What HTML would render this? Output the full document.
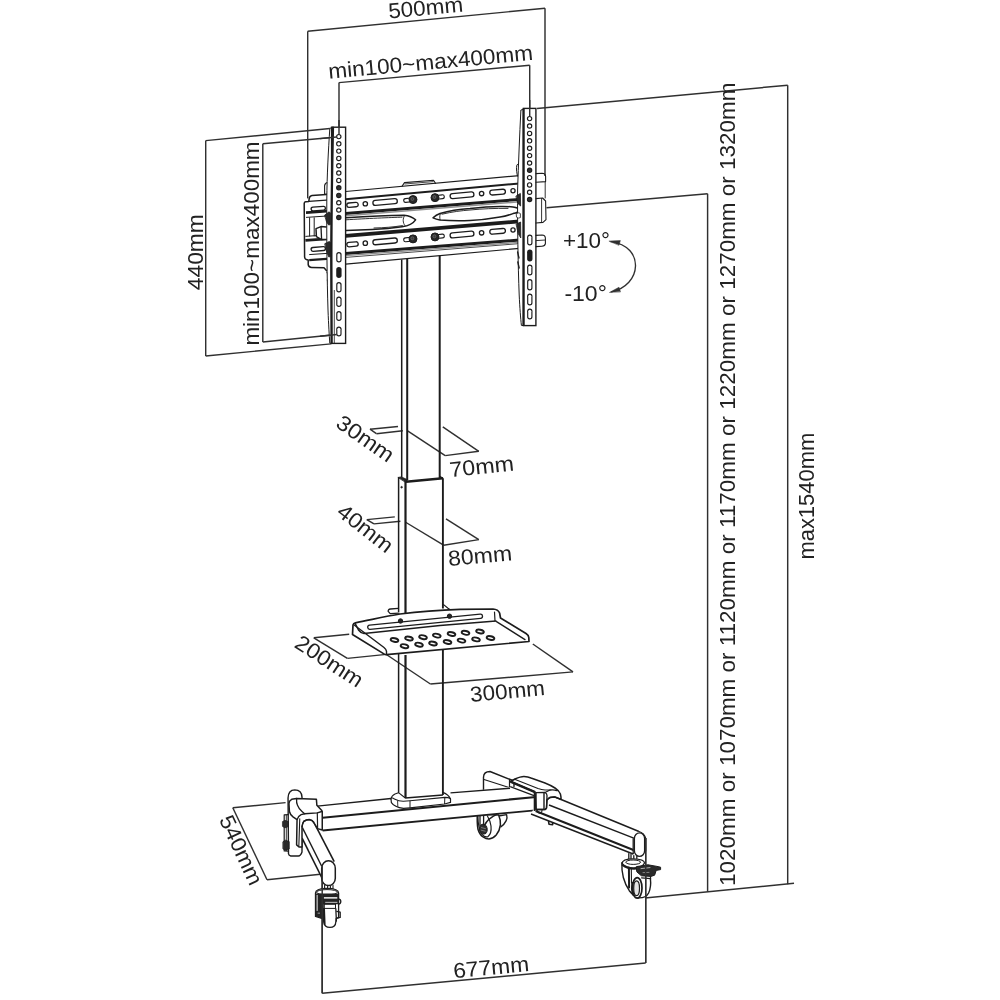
<!DOCTYPE html>
<html><head><meta charset="utf-8"><title>TV cart dimensions</title>
<style>
html,body{margin:0;padding:0;background:#fff;}
svg{display:block;filter:grayscale(1);font-family:"Liberation Sans",sans-serif;}
</style></head><body>
<svg width="1000" height="1000" viewBox="0 0 1000 1000">
<rect width="1000" height="1000" fill="#fff"/>
<line x1="307.70" y1="31.30" x2="545.00" y2="8.20" stroke="#303030" stroke-width="1.45" />
<line x1="307.70" y1="31.30" x2="307.70" y2="198.40" stroke="#303030" stroke-width="1.45" />
<line x1="545.00" y1="8.20" x2="545.00" y2="176.00" stroke="#303030" stroke-width="1.45" />
<line x1="339.00" y1="82.60" x2="529.70" y2="65.20" stroke="#303030" stroke-width="1.45" />
<line x1="339.00" y1="82.60" x2="339.00" y2="134.00" stroke="#303030" stroke-width="1.45" />
<line x1="529.70" y1="65.20" x2="529.70" y2="115.50" stroke="#303030" stroke-width="1.45" />
<line x1="205.70" y1="140.60" x2="205.70" y2="356.00" stroke="#303030" stroke-width="1.45" />
<line x1="205.70" y1="140.60" x2="330.00" y2="128.50" stroke="#303030" stroke-width="1.45" />
<line x1="205.70" y1="356.00" x2="331.00" y2="343.90" stroke="#303030" stroke-width="1.45" />
<line x1="262.80" y1="143.80" x2="262.80" y2="342.00" stroke="#303030" stroke-width="1.45" />
<line x1="262.80" y1="143.80" x2="337.00" y2="137.00" stroke="#303030" stroke-width="1.45" />
<line x1="262.80" y1="342.00" x2="337.00" y2="334.50" stroke="#303030" stroke-width="1.45" />
<line x1="537.00" y1="108.50" x2="787.70" y2="85.20" stroke="#303030" stroke-width="1.45" />
<line x1="787.70" y1="85.20" x2="787.70" y2="884.20" stroke="#303030" stroke-width="1.45" />
<line x1="546.50" y1="207.80" x2="707.60" y2="193.80" stroke="#303030" stroke-width="1.45" />
<line x1="707.60" y1="193.80" x2="707.60" y2="891.80" stroke="#303030" stroke-width="1.45" />
<line x1="645.00" y1="898.00" x2="794.00" y2="883.30" stroke="#303030" stroke-width="1.45" />
<line x1="322.20" y1="868.00" x2="322.20" y2="993.30" stroke="#303030" stroke-width="1.45" />
<line x1="645.70" y1="838.00" x2="645.70" y2="963.00" stroke="#303030" stroke-width="1.45" />
<line x1="322.20" y1="993.30" x2="645.70" y2="963.00" stroke="#303030" stroke-width="1.45" />
<line x1="232.80" y1="807.80" x2="285.60" y2="802.60" stroke="#303030" stroke-width="1.45" />
<line x1="232.80" y1="807.80" x2="267.00" y2="879.80" stroke="#303030" stroke-width="1.45" />
<line x1="267.00" y1="879.80" x2="320.40" y2="874.20" stroke="#303030" stroke-width="1.45" />
<line x1="370.00" y1="429.20" x2="398.00" y2="426.50" stroke="#303030" stroke-width="1.45" />
<line x1="370.00" y1="429.20" x2="376.40" y2="433.70" stroke="#303030" stroke-width="1.45" />
<line x1="376.40" y1="433.70" x2="402.80" y2="430.80" stroke="#303030" stroke-width="1.45" />
<line x1="407.60" y1="430.80" x2="445.20" y2="455.60" stroke="#303030" stroke-width="1.45" />
<line x1="445.20" y1="455.60" x2="478.80" y2="451.30" stroke="#303030" stroke-width="1.45" />
<line x1="442.80" y1="426.80" x2="478.80" y2="451.30" stroke="#303030" stroke-width="1.45" />
<line x1="366.80" y1="519.60" x2="394.80" y2="516.90" stroke="#303030" stroke-width="1.45" />
<line x1="366.80" y1="519.60" x2="374.00" y2="523.90" stroke="#303030" stroke-width="1.45" />
<line x1="374.00" y1="523.90" x2="400.40" y2="521.20" stroke="#303030" stroke-width="1.45" />
<line x1="405.20" y1="522.00" x2="443.60" y2="545.20" stroke="#303030" stroke-width="1.45" />
<line x1="443.60" y1="545.20" x2="478.80" y2="539.60" stroke="#303030" stroke-width="1.45" />
<line x1="446.00" y1="518.80" x2="478.80" y2="539.60" stroke="#303030" stroke-width="1.45" />
<line x1="313.80" y1="637.80" x2="349.20" y2="634.20" stroke="#303030" stroke-width="1.45" />
<line x1="313.80" y1="637.80" x2="347.40" y2="658.40" stroke="#303030" stroke-width="1.45" />
<line x1="347.40" y1="658.40" x2="384.00" y2="654.60" stroke="#303030" stroke-width="1.45" />
<line x1="385.60" y1="654.00" x2="430.40" y2="684.00" stroke="#303030" stroke-width="1.45" />
<line x1="430.40" y1="684.00" x2="573.00" y2="671.90" stroke="#303030" stroke-width="1.45" />
<line x1="532.80" y1="644.00" x2="573.00" y2="671.90" stroke="#303030" stroke-width="1.45" />
<text x="388.90" y="18.40" font-size="21.5" transform="rotate(-5.20 388.90 18.40)" text-anchor="start" fill="#222" font-weight="normal" textLength="75.0" lengthAdjust="spacingAndGlyphs">500mm</text>
<text x="329.00" y="78.80" font-size="21.5" transform="rotate(-5.30 329.00 78.80)" text-anchor="start" fill="#222" font-weight="normal" textLength="205.3" lengthAdjust="spacingAndGlyphs">min100~max400mm</text>
<text x="203.30" y="290.20" font-size="21.5" transform="rotate(-90.00 203.30 290.20)" text-anchor="start" fill="#222" font-weight="normal" textLength="76.0" lengthAdjust="spacingAndGlyphs">440mm</text>
<text x="258.80" y="345.60" font-size="21.5" transform="rotate(-90.00 258.80 345.60)" text-anchor="start" fill="#222" font-weight="normal" textLength="204.2" lengthAdjust="spacingAndGlyphs">min100~max400mm</text>
<text x="563.00" y="247.60" font-size="21.5" transform="rotate(0.00 563.00 247.60)" text-anchor="start" fill="#222" font-weight="normal" textLength="47.0" lengthAdjust="spacingAndGlyphs">+10°</text>
<text x="564.40" y="300.60" font-size="21.5" transform="rotate(0.00 564.40 300.60)" text-anchor="start" fill="#222" font-weight="normal" textLength="42.5" lengthAdjust="spacingAndGlyphs">-10°</text>
<text x="735.20" y="886.00" font-size="21.5" transform="rotate(-90.00 735.20 886.00)" text-anchor="start" fill="#222" font-weight="normal" textLength="803.5" lengthAdjust="spacingAndGlyphs">1020mm or 1070mm or 1120mm or 1170mm or 1220mm or 1270mm or 1320mm</text>
<text x="814.00" y="559.60" font-size="21.5" transform="rotate(-90.00 814.00 559.60)" text-anchor="start" fill="#222" font-weight="normal" textLength="126.8" lengthAdjust="spacingAndGlyphs">max1540mm</text>
<text x="454.00" y="978.20" font-size="21.5" transform="rotate(-5.35 454.00 978.20)" text-anchor="start" fill="#222" font-weight="normal" textLength="76.0" lengthAdjust="spacingAndGlyphs">677mm</text>
<text x="218.70" y="819.40" font-size="21.5" transform="rotate(65.00 218.70 819.40)" text-anchor="start" fill="#222" font-weight="normal" textLength="74.5" lengthAdjust="spacingAndGlyphs">540mm</text>
<text x="334.60" y="426.00" font-size="21.5" transform="rotate(35.00 334.60 426.00)" text-anchor="start" fill="#222" font-weight="normal" textLength="65.0" lengthAdjust="spacingAndGlyphs">30mm</text>
<text x="450.20" y="477.20" font-size="21.5" transform="rotate(-6.00 450.20 477.20)" text-anchor="start" fill="#222" font-weight="normal" textLength="64.7" lengthAdjust="spacingAndGlyphs">70mm</text>
<text x="335.50" y="514.20" font-size="21.5" transform="rotate(38.00 335.50 514.20)" text-anchor="start" fill="#222" font-weight="normal" textLength="64.5" lengthAdjust="spacingAndGlyphs">40mm</text>
<text x="448.80" y="566.00" font-size="21.5" transform="rotate(-5.20 448.80 566.00)" text-anchor="start" fill="#222" font-weight="normal" textLength="64.0" lengthAdjust="spacingAndGlyphs">80mm</text>
<text x="293.20" y="646.60" font-size="21.5" transform="rotate(33.00 293.20 646.60)" text-anchor="start" fill="#222" font-weight="normal" textLength="76.5" lengthAdjust="spacingAndGlyphs">200mm</text>
<text x="470.80" y="702.00" font-size="21.5" transform="rotate(-5.40 470.80 702.00)" text-anchor="start" fill="#222" font-weight="normal" textLength="75.0" lengthAdjust="spacingAndGlyphs">300mm</text>
<path d="M611,241.6 C628,244 635.8,255 635.5,266 C635.2,278 626,288.6 611.5,291.8" fill="none" stroke="#303030" stroke-width="1.35" stroke-linejoin="round" stroke-linecap="round" />
<path d="M609.3,241.1 L620.4,240.6 L619.0,245.0 Z" fill="#303030" stroke="#303030" stroke-width="0.5" stroke-linejoin="round" stroke-linecap="round" />
<path d="M609.8,292.3 L619.0,287.2 L620.4,291.6 Z" fill="#303030" stroke="#303030" stroke-width="0.5" stroke-linejoin="round" stroke-linecap="round" />
<line x1="345.60" y1="191.50" x2="519.50" y2="175.60" stroke="#1c1c1c" stroke-width="1.2" />
<line x1="345.60" y1="199.30" x2="519.50" y2="183.40" stroke="#1c1c1c" stroke-width="2.0" />
<line x1="345.60" y1="213.40" x2="519.50" y2="199.40" stroke="#1c1c1c" stroke-width="3.0" />
<line x1="345.60" y1="235.80" x2="519.50" y2="221.40" stroke="#1c1c1c" stroke-width="3.7" />
<line x1="345.60" y1="253.40" x2="519.50" y2="240.10" stroke="#1c1c1c" stroke-width="3.0" />
<line x1="345.60" y1="264.20" x2="519.50" y2="248.40" stroke="#1c1c1c" stroke-width="1.2" />
<line x1="345.60" y1="257.40" x2="519.50" y2="243.60" stroke="#1c1c1c" stroke-width="0.8" />
<path d="M402.00,186.30 L404.50,182.60 L433.50,180.20 L435.50,183.30" fill="none" stroke="#1c1c1c" stroke-width="1.1" stroke-linejoin="round" stroke-linecap="round" />
<line x1="404.50" y1="184.00" x2="433.50" y2="181.60" stroke="#1c1c1c" stroke-width="0.8" />
<line x1="349.00" y1="205.20" x2="356.00" y2="204.58" stroke="#1c1c1c" stroke-width="5.70" stroke-linecap="round"/>
<line x1="349.00" y1="205.20" x2="356.00" y2="204.58" stroke="#fff" stroke-width="3.10" stroke-linecap="round"/>
<circle cx="365.30" cy="203.77" r="2.20" fill="none" stroke="#1c1c1c" stroke-width="1.3"/>
<line x1="375.40" y1="202.88" x2="394.80" y2="201.17" stroke="#1c1c1c" stroke-width="6.30" stroke-linecap="round"/>
<line x1="375.40" y1="202.88" x2="394.80" y2="201.17" stroke="#fff" stroke-width="3.70" stroke-linecap="round"/>
<line x1="411.00" y1="199.87" x2="405.60" y2="200.47" stroke="#1c1c1c" stroke-width="4.90" stroke-linecap="round"/>
<line x1="411.00" y1="199.87" x2="405.60" y2="200.47" stroke="#fff" stroke-width="2.70" stroke-linecap="round"/>
<circle cx="413.00" cy="199.57" r="4.00" fill="#262626" stroke="#1c1c1c" stroke-width="1.0"/>
<circle cx="412.40" cy="198.97" r="1.50" fill="#3a3a3a" stroke="#777" stroke-width="0.6"/>
<line x1="437.00" y1="197.33" x2="442.40" y2="196.73" stroke="#1c1c1c" stroke-width="4.90" stroke-linecap="round"/>
<line x1="437.00" y1="197.33" x2="442.40" y2="196.73" stroke="#fff" stroke-width="2.70" stroke-linecap="round"/>
<circle cx="435.00" cy="197.63" r="4.00" fill="#262626" stroke="#1c1c1c" stroke-width="1.0"/>
<circle cx="434.40" cy="197.03" r="1.50" fill="#3a3a3a" stroke="#777" stroke-width="0.6"/>
<line x1="452.60" y1="196.09" x2="471.40" y2="194.43" stroke="#1c1c1c" stroke-width="6.30" stroke-linecap="round"/>
<line x1="452.60" y1="196.09" x2="471.40" y2="194.43" stroke="#fff" stroke-width="3.70" stroke-linecap="round"/>
<circle cx="481.60" cy="193.53" r="2.20" fill="none" stroke="#1c1c1c" stroke-width="1.3"/>
<line x1="492.20" y1="192.60" x2="503.00" y2="191.65" stroke="#1c1c1c" stroke-width="6.10" stroke-linecap="round"/>
<line x1="492.20" y1="192.60" x2="503.00" y2="191.65" stroke="#fff" stroke-width="3.50" stroke-linecap="round"/>
<circle cx="513.00" cy="190.77" r="2.10" fill="none" stroke="#1c1c1c" stroke-width="1.3"/>
<line x1="349.00" y1="244.60" x2="356.00" y2="243.97" stroke="#1c1c1c" stroke-width="5.70" stroke-linecap="round"/>
<line x1="349.00" y1="244.60" x2="356.00" y2="243.97" stroke="#fff" stroke-width="3.10" stroke-linecap="round"/>
<circle cx="365.30" cy="243.14" r="2.20" fill="none" stroke="#1c1c1c" stroke-width="1.3"/>
<line x1="375.40" y1="242.24" x2="394.80" y2="240.51" stroke="#1c1c1c" stroke-width="6.30" stroke-linecap="round"/>
<line x1="375.40" y1="242.24" x2="394.80" y2="240.51" stroke="#fff" stroke-width="3.70" stroke-linecap="round"/>
<line x1="411.00" y1="239.19" x2="405.60" y2="239.79" stroke="#1c1c1c" stroke-width="4.90" stroke-linecap="round"/>
<line x1="411.00" y1="239.19" x2="405.60" y2="239.79" stroke="#fff" stroke-width="2.70" stroke-linecap="round"/>
<circle cx="413.00" cy="238.89" r="4.00" fill="#262626" stroke="#1c1c1c" stroke-width="1.0"/>
<circle cx="412.40" cy="238.29" r="1.50" fill="#3a3a3a" stroke="#777" stroke-width="0.6"/>
<line x1="437.00" y1="236.63" x2="442.40" y2="236.03" stroke="#1c1c1c" stroke-width="4.90" stroke-linecap="round"/>
<line x1="437.00" y1="236.63" x2="442.40" y2="236.03" stroke="#fff" stroke-width="2.70" stroke-linecap="round"/>
<circle cx="435.00" cy="236.93" r="4.00" fill="#262626" stroke="#1c1c1c" stroke-width="1.0"/>
<circle cx="434.40" cy="236.33" r="1.50" fill="#3a3a3a" stroke="#777" stroke-width="0.6"/>
<line x1="452.60" y1="235.36" x2="471.40" y2="233.69" stroke="#1c1c1c" stroke-width="6.30" stroke-linecap="round"/>
<line x1="452.60" y1="235.36" x2="471.40" y2="233.69" stroke="#fff" stroke-width="3.70" stroke-linecap="round"/>
<circle cx="481.60" cy="232.78" r="2.20" fill="none" stroke="#1c1c1c" stroke-width="1.3"/>
<line x1="492.20" y1="231.83" x2="503.00" y2="230.87" stroke="#1c1c1c" stroke-width="6.10" stroke-linecap="round"/>
<line x1="492.20" y1="231.83" x2="503.00" y2="230.87" stroke="#fff" stroke-width="3.50" stroke-linecap="round"/>
<circle cx="513.00" cy="229.98" r="2.10" fill="none" stroke="#1c1c1c" stroke-width="1.3"/>
<line x1="345.60" y1="215.80" x2="519.50" y2="201.80" stroke="#909090" stroke-width="1.5" />
<line x1="345.60" y1="255.60" x2="519.50" y2="242.30" stroke="#909090" stroke-width="1.3" />
<path d="M346,217.8 C365,216.6 392,215.4 404,215.2 C409,215.6 413,217.4 415.6,219.8 C413.6,222.8 409,225.6 402,226.8 C392,228.4 380,229.2 372,229.4 C362,229.9 352,230.4 346,230.6" fill="none" stroke="#1c1c1c" stroke-width="1.5" stroke-linejoin="round" stroke-linecap="round" />
<path d="M346,219.8 C365,218.6 392,217.4 402,217.2 M404.6,215.6 C402.6,218.4 402.6,223 405,225.6 M402.4,225.6 C394,227 384,227.8 374,228" fill="none" stroke="#1c1c1c" stroke-width="0.9" stroke-linejoin="round" stroke-linecap="round" />
<path d="M433,217.8 C435,216 437.6,214.4 440,213.5 C450,210.6 460,209.2 470,208.5 C482,207.2 492,206.6 500,206.5 C506,206.4 510,206.6 513,207 C517,207.6 519,208.6 519.4,210 C519,212 517,213 513,213.6 C509,215 505,216.2 500,217 C490,218.8 480,220 470,220.5 C460,220.9 450,220.8 440,220 C437.6,219.6 435,218.8 433,217.8 Z" fill="none" stroke="#1c1c1c" stroke-width="1.5" stroke-linejoin="round" stroke-linecap="round" />
<path d="M440.2,214 C439.6,216 439.6,218 440.2,219.8 M442,214.2 C452,211.8 462,210.6 470,210 C482,208.8 495,208.2 508,208.4" fill="none" stroke="#1c1c1c" stroke-width="0.9" stroke-linejoin="round" stroke-linecap="round" />
<path d="M330,194.2 L312,195.6 Q309.5,196 309.2,198.6 L308.8,201.4 L305.6,201.8 Q304.2,202 304.2,203.6 L304.6,257 Q304.8,259.4 307,259.8 L308.2,260 L308.2,264.6 Q308.6,267.4 311.6,267.4 L324,267.8 L326.4,270.4" fill="none" stroke="#1c1c1c" stroke-width="1.5" stroke-linejoin="round" stroke-linecap="round" />
<line x1="308.80" y1="201.40" x2="330.00" y2="199.80" stroke="#1c1c1c" stroke-width="1.2" />
<line x1="306.00" y1="212.60" x2="330.00" y2="211.00" stroke="#1c1c1c" stroke-width="2.6" />
<line x1="306.00" y1="217.40" x2="330.00" y2="215.80" stroke="#1c1c1c" stroke-width="1.0" />
<line x1="305.40" y1="240.40" x2="330.00" y2="238.60" stroke="#1c1c1c" stroke-width="2.6" />
<line x1="305.40" y1="236.40" x2="330.00" y2="234.60" stroke="#1c1c1c" stroke-width="1.0" />
<line x1="309.20" y1="260.20" x2="330.00" y2="258.60" stroke="#1c1c1c" stroke-width="2.2" />
<line x1="309.20" y1="254.60" x2="330.00" y2="253.20" stroke="#1c1c1c" stroke-width="1.0" />
<line x1="313.00" y1="209.00" x2="323.50" y2="208.20" stroke="#1c1c1c" stroke-width="5.10" stroke-linecap="round"/>
<line x1="313.00" y1="209.00" x2="323.50" y2="208.20" stroke="#fff" stroke-width="2.50" stroke-linecap="round"/>
<line x1="313.00" y1="249.40" x2="323.50" y2="248.60" stroke="#1c1c1c" stroke-width="5.10" stroke-linecap="round"/>
<line x1="313.00" y1="249.40" x2="323.50" y2="248.60" stroke="#fff" stroke-width="2.50" stroke-linecap="round"/>
<line x1="309.60" y1="217.40" x2="309.60" y2="236.40" stroke="#1c1c1c" stroke-width="1.0" />
<line x1="314.20" y1="217.40" x2="314.20" y2="236.40" stroke="#1c1c1c" stroke-width="1.0" />
<path d="M316,228.6 L321,226.6 L329,227.2 L329,239.2 L321.6,239.6 L316.4,236.6 Z" fill="#fff" stroke="#1c1c1c" stroke-width="1.5" stroke-linejoin="round" stroke-linecap="round" />
<line x1="321.00" y1="226.60" x2="321.60" y2="239.60" stroke="#1c1c1c" stroke-width="1.3" />
<path d="M329,194 L324.6,194.4 L324.6,185.6 Q325,182.6 328,182.2 L329,182" fill="none" stroke="#1c1c1c" stroke-width="1.1" stroke-linejoin="round" stroke-linecap="round" />
<path d="M327,272 L328.6,276 M327.4,280 L328.8,284" fill="none" stroke="#1c1c1c" stroke-width="1.3" stroke-linejoin="round" stroke-linecap="round" />
<path d="M331.6,127.4 L329.8,128.6 C328.4,150 327.0,175 326.8,200 C326.6,235 327.0,280 328.0,310 C328.6,325 329.2,335 329.8,343.2 L331.6,343.4 Z" fill="#fff" stroke="#1c1c1c" stroke-width="1.0" stroke-linejoin="round" stroke-linecap="round" />
<rect x="331.6" y="127.2" width="14.0" height="216.2" fill="#fff" stroke="#1c1c1c" stroke-width="1.4"/>
<path d="M333.0,127.6 C332.2,170 331.2,220 331.2,260 L331.6,343.2" fill="none" stroke="#1c1c1c" stroke-width="2.2" stroke-linejoin="round" stroke-linecap="round" />
<line x1="334.30" y1="290.00" x2="334.30" y2="343.00" stroke="#1c1c1c" stroke-width="0.8" />
<circle cx="338.80" cy="136.60" r="2.15" fill="none" stroke="#1c1c1c" stroke-width="1.15"/>
<circle cx="338.80" cy="143.80" r="2.15" fill="none" stroke="#1c1c1c" stroke-width="1.15"/>
<circle cx="338.80" cy="151.10" r="2.15" fill="none" stroke="#1c1c1c" stroke-width="1.15"/>
<circle cx="338.80" cy="158.40" r="2.15" fill="none" stroke="#1c1c1c" stroke-width="1.15"/>
<circle cx="338.80" cy="165.70" r="2.15" fill="none" stroke="#1c1c1c" stroke-width="1.15"/>
<circle cx="338.80" cy="173.00" r="2.15" fill="none" stroke="#1c1c1c" stroke-width="1.15"/>
<circle cx="338.80" cy="180.40" r="2.15" fill="none" stroke="#1c1c1c" stroke-width="1.15"/>
<circle cx="338.80" cy="187.80" r="2.15" fill="#333" stroke="#1c1c1c" stroke-width="1.15"/>
<circle cx="338.80" cy="195.40" r="2.15" fill="#333" stroke="#1c1c1c" stroke-width="1.15"/>
<circle cx="338.80" cy="202.70" r="2.15" fill="none" stroke="#1c1c1c" stroke-width="1.15"/>
<circle cx="338.80" cy="210.00" r="2.15" fill="none" stroke="#1c1c1c" stroke-width="1.15"/>
<circle cx="338.80" cy="217.50" r="2.15" fill="#333" stroke="#1c1c1c" stroke-width="1.15"/>
<line x1="338.90" y1="254.70" x2="338.90" y2="259.80" stroke="#1c1c1c" stroke-width="5.35" stroke-linecap="round"/>
<line x1="338.90" y1="254.70" x2="338.90" y2="259.80" stroke="#fff" stroke-width="3.05" stroke-linecap="round"/>
<line x1="338.90" y1="269.70" x2="338.90" y2="275.30" stroke="#1c1c1c" stroke-width="5.35" stroke-linecap="round"/>
<line x1="338.90" y1="284.70" x2="338.90" y2="289.80" stroke="#1c1c1c" stroke-width="5.35" stroke-linecap="round"/>
<line x1="338.90" y1="284.70" x2="338.90" y2="289.80" stroke="#fff" stroke-width="3.05" stroke-linecap="round"/>
<line x1="338.90" y1="299.20" x2="338.90" y2="304.30" stroke="#1c1c1c" stroke-width="5.35" stroke-linecap="round"/>
<line x1="338.90" y1="299.20" x2="338.90" y2="304.30" stroke="#fff" stroke-width="3.05" stroke-linecap="round"/>
<line x1="338.90" y1="313.70" x2="338.90" y2="318.30" stroke="#1c1c1c" stroke-width="5.35" stroke-linecap="round"/>
<line x1="338.90" y1="313.70" x2="338.90" y2="318.30" stroke="#fff" stroke-width="3.05" stroke-linecap="round"/>
<line x1="338.90" y1="329.20" x2="338.90" y2="333.80" stroke="#1c1c1c" stroke-width="5.35" stroke-linecap="round"/>
<line x1="338.90" y1="329.20" x2="338.90" y2="333.80" stroke="#fff" stroke-width="3.05" stroke-linecap="round"/>
<path d="M523.4,109.4 L520.9,110 C519.6,135 518.4,165 517.6,190 C517.4,225 518.0,265 519.2,295 C519.8,308 520.6,318 521.4,325.4 L523.4,325.6 Z" fill="#fff" stroke="#1c1c1c" stroke-width="1.0" stroke-linejoin="round" stroke-linecap="round" />
<rect x="523.4" y="108.4" width="12.5" height="217.2" fill="#fff" stroke="#1c1c1c" stroke-width="1.4"/>
<line x1="523.60" y1="108.40" x2="523.60" y2="325.40" stroke="#1c1c1c" stroke-width="2.2" />
<circle cx="529.60" cy="118.60" r="2.15" fill="none" stroke="#1c1c1c" stroke-width="1.15"/>
<circle cx="529.60" cy="126.00" r="2.15" fill="none" stroke="#1c1c1c" stroke-width="1.15"/>
<circle cx="529.60" cy="133.40" r="2.15" fill="none" stroke="#1c1c1c" stroke-width="1.15"/>
<circle cx="529.60" cy="140.80" r="2.15" fill="none" stroke="#1c1c1c" stroke-width="1.15"/>
<circle cx="529.60" cy="148.20" r="2.15" fill="none" stroke="#1c1c1c" stroke-width="1.15"/>
<circle cx="529.60" cy="155.60" r="2.15" fill="none" stroke="#1c1c1c" stroke-width="1.15"/>
<circle cx="529.60" cy="163.00" r="2.15" fill="none" stroke="#1c1c1c" stroke-width="1.15"/>
<circle cx="529.60" cy="170.30" r="2.15" fill="#333" stroke="#1c1c1c" stroke-width="1.15"/>
<circle cx="529.60" cy="177.60" r="2.15" fill="none" stroke="#1c1c1c" stroke-width="1.15"/>
<circle cx="529.60" cy="184.90" r="2.15" fill="none" stroke="#1c1c1c" stroke-width="1.15"/>
<circle cx="529.60" cy="192.20" r="2.15" fill="none" stroke="#1c1c1c" stroke-width="1.15"/>
<circle cx="529.60" cy="199.50" r="2.15" fill="#333" stroke="#1c1c1c" stroke-width="1.15"/>
<line x1="529.80" y1="237.20" x2="529.80" y2="242.80" stroke="#1c1c1c" stroke-width="5.35" stroke-linecap="round"/>
<line x1="529.80" y1="237.20" x2="529.80" y2="242.80" stroke="#fff" stroke-width="3.05" stroke-linecap="round"/>
<line x1="529.80" y1="252.20" x2="529.80" y2="258.80" stroke="#1c1c1c" stroke-width="5.35" stroke-linecap="round"/>
<line x1="529.80" y1="267.20" x2="529.80" y2="272.80" stroke="#1c1c1c" stroke-width="5.35" stroke-linecap="round"/>
<line x1="529.80" y1="267.20" x2="529.80" y2="272.80" stroke="#fff" stroke-width="3.05" stroke-linecap="round"/>
<line x1="529.80" y1="281.70" x2="529.80" y2="287.80" stroke="#1c1c1c" stroke-width="5.35" stroke-linecap="round"/>
<line x1="529.80" y1="281.70" x2="529.80" y2="287.80" stroke="#fff" stroke-width="3.05" stroke-linecap="round"/>
<line x1="529.80" y1="296.20" x2="529.80" y2="302.80" stroke="#1c1c1c" stroke-width="5.35" stroke-linecap="round"/>
<line x1="529.80" y1="296.20" x2="529.80" y2="302.80" stroke="#fff" stroke-width="3.05" stroke-linecap="round"/>
<line x1="529.80" y1="311.20" x2="529.80" y2="316.80" stroke="#1c1c1c" stroke-width="5.35" stroke-linecap="round"/>
<line x1="529.80" y1="311.20" x2="529.80" y2="316.80" stroke="#fff" stroke-width="3.05" stroke-linecap="round"/>
<path d="M516.2,196 L520.4,193.4 L520.6,206 L518,203.6 Z" fill="#2a2a2a" stroke="#1c1c1c" stroke-width="0.8" stroke-linejoin="round" stroke-linecap="round" />
<path d="M516.4,224 L520.6,222 L520.8,238 L518.4,234 Z" fill="#2a2a2a" stroke="#1c1c1c" stroke-width="0.8" stroke-linejoin="round" stroke-linecap="round" />
<path d="M516.6,213.4 Q519.4,212 520.4,213.6 L520.4,217.6 Q518.6,218.8 516.8,217.4 Z" fill="#fff" stroke="#1c1c1c" stroke-width="0.8" stroke-linejoin="round" stroke-linecap="round" />
<path d="M517.6,252 L519,258 M517.8,262 L519.2,268" fill="none" stroke="#1c1c1c" stroke-width="1.3" stroke-linejoin="round" stroke-linecap="round" />
<path d="M517.4,176 Q515.2,165 517.6,164" fill="none" stroke="#1c1c1c" stroke-width="1.0" stroke-linejoin="round" stroke-linecap="round" />
<path d="M536,173.6 L542,173.2 Q545.6,173.4 545.6,176.4 L545.6,181.6 L536,182.2" fill="none" stroke="#1c1c1c" stroke-width="1.1" stroke-linejoin="round" stroke-linecap="round" />
<path d="M536,198.6 L542.6,198 L545.6,201 L546,219.6 L543,222.4 L536,223" fill="none" stroke="#1c1c1c" stroke-width="1.1" stroke-linejoin="round" stroke-linecap="round" />
<line x1="541.60" y1="198.20" x2="541.60" y2="222.60" stroke="#1c1c1c" stroke-width="0.9" />
<path d="M536,235.4 L542,235 Q545.4,235.2 545.4,238.4 L545.4,243.6 Q545,246 542,246.2 L536,246.6" fill="none" stroke="#1c1c1c" stroke-width="1.1" stroke-linejoin="round" stroke-linecap="round" />
<line x1="536.00" y1="240.60" x2="545.40" y2="240.00" stroke="#1c1c1c" stroke-width="0.9" />
<line x1="545.20" y1="181.80" x2="545.20" y2="198.40" stroke="#1c1c1c" stroke-width="0.9" />
<path d="M324.8,215 L329.2,211.8 L330.4,213 L330.4,224.6 L328.6,225 L326.6,221.8 Z" fill="#2a2a2a" stroke="#1c1c1c" stroke-width="0.8" stroke-linejoin="round" stroke-linecap="round" />
<path d="M325,243.6 L329.4,241.4 L330.4,242.4 L330.4,256.6 L328.8,257 L327,252.6 Z" fill="#2a2a2a" stroke="#1c1c1c" stroke-width="0.8" stroke-linejoin="round" stroke-linecap="round" />
<path d="M498.6,816 L506.6,814.6 Q507.6,818 506.2,820.6 Q504.4,824.4 500.8,826.8" fill="none" stroke="#1c1c1c" stroke-width="1.4" stroke-linejoin="round" stroke-linecap="round" />
<path d="M477.3,814 C477,822 477.4,826 477.9,829 C479,833 481,835.6 483,836.8 C485,838.2 487,838.9 489,838.9 C492,838.6 494.4,837 496.2,835 C498.6,832 500,828.6 500.4,824.8 C500.6,821 500,818 498.6,815 Z" fill="#fff" stroke="#1c1c1c" stroke-width="1.5" stroke-linejoin="round" stroke-linecap="round" />
<path d="M477.9,816 C478,824 479,830 482,834.4 C484,836.6 486.4,837.4 488,836.6 C490.6,834.6 491.4,830 491,826 C490.6,822 489,818.6 487.4,816" fill="none" stroke="#1c1c1c" stroke-width="1.2" stroke-linejoin="round" stroke-linecap="round" />
<ellipse cx="483.30" cy="829.20" rx="3.90" ry="4.90" transform="rotate(-8.00 483.30 829.20)" fill="#2c2c2c" stroke="#1c1c1c" stroke-width="1.0"/>
<path d="M481.4,827.6 L485.4,828.6 M481.2,830.2 L485.2,831.2" fill="none" stroke="#999" stroke-width="0.7" stroke-linejoin="round" stroke-linecap="round" />
<path d="M484.8,824.8 C486.6,821 490,817.6 496.2,814.6" fill="none" stroke="#1c1c1c" stroke-width="1.6" stroke-linejoin="round" stroke-linecap="round" />
<path d="M480,815 L480,825.6 M483.6,815 L483.6,824.6" fill="none" stroke="#1c1c1c" stroke-width="1.3" stroke-linejoin="round" stroke-linecap="round" />
<path d="M483.5,790.4 L483.5,777 Q483.8,771.6 490,771.5 L514,781 L514,790" fill="#fff" stroke="#1c1c1c" stroke-width="1.4" stroke-linejoin="round" stroke-linecap="round" />
<path d="M484,779.5 L509,787.5" fill="none" stroke="#1c1c1c" stroke-width="1.2" stroke-linejoin="round" stroke-linecap="round" />
<line x1="509.50" y1="780.00" x2="509.50" y2="787.50" stroke="#1c1c1c" stroke-width="1.2" />
<path d="M322.6,805.00 L536,784.73 L536,810.23 L322.6,830.50 Z" fill="#fff" stroke="none"/>
<line x1="317.30" y1="806.10" x2="391.00" y2="798.50" stroke="#1c1c1c" stroke-width="1.4" />
<line x1="450.50" y1="792.85" x2="510.00" y2="788.30" stroke="#1c1c1c" stroke-width="1.4" />
<line x1="322.60" y1="817.74" x2="536.00" y2="796.89" stroke="#1c1c1c" stroke-width="2.0" />
<line x1="322.60" y1="830.50" x2="535.00" y2="810.33" stroke="#1c1c1c" stroke-width="1.8" />
<path d="M549,798.2 L638.4,831.2 Q643,832.6 645.6,836.4 L645.6,852 L633.2,854 L531,814 L536,804 Z" fill="#fff" stroke="none" stroke-width="1.0" stroke-linejoin="round" stroke-linecap="round" />
<line x1="555.00" y1="797.00" x2="638.40" y2="831.20" stroke="#1c1c1c" stroke-width="1.5" />
<line x1="549.00" y1="805.00" x2="634.40" y2="838.40" stroke="#1c1c1c" stroke-width="1.4" />
<line x1="535.60" y1="811.00" x2="633.40" y2="850.00" stroke="#1c1c1c" stroke-width="1.9" />
<line x1="531.00" y1="814.00" x2="633.20" y2="854.00" stroke="#1c1c1c" stroke-width="1.4" />
<line x1="633.20" y1="838.60" x2="633.20" y2="854.20" stroke="#1c1c1c" stroke-width="1.3" />
<path d="M638.4,831.2 Q644.4,833 645.7,838.4 L645.7,851" fill="none" stroke="#1c1c1c" stroke-width="1.2" stroke-linejoin="round" stroke-linecap="round" />
<rect x="634.4" y="832.8" width="10.2" height="23.6" rx="5.1" ry="5.6" fill="#fff" stroke="#1c1c1c" stroke-width="1.3"/>
<path d="M548.6,821.6 L549,824.2 L552.6,824.6 L552.8,823" fill="none" stroke="#1c1c1c" stroke-width="1.6" stroke-linejoin="round" stroke-linecap="round" />
<path d="M510.5,781.5 L515,779 Q521,776.4 524,776.5 Q528,776.8 531,778 L545,783 Q551,785.4 555,788 Q559.4,791 560.4,794 Q561.2,797 561,799.4 L555,797 Q551.6,797 550,797.5 L547,800 L546.5,808 L545,809.5 L536,809.5 L535,792 Z" fill="#fff" stroke="#1c1c1c" stroke-width="1.5" stroke-linejoin="round" stroke-linecap="round" />
<line x1="510.50" y1="781.60" x2="535.00" y2="792.20" stroke="#1c1c1c" stroke-width="2.4" />
<line x1="510.20" y1="786.60" x2="534.00" y2="795.60" stroke="#1c1c1c" stroke-width="1.2" />
<path d="M514.6,779.2 L538,788.6 Q541.6,789.8 545,790 L550,790" fill="none" stroke="#1c1c1c" stroke-width="1.1" stroke-linejoin="round" stroke-linecap="round" />
<path d="M536,792.6 L545,792.5 L550,790 Q554,789.4 556.6,790.6" fill="none" stroke="#1c1c1c" stroke-width="1.3" stroke-linejoin="round" stroke-linecap="round" />
<path d="M536,793 L536,809.5 L544,809.5 L544,793" fill="none" stroke="#1c1c1c" stroke-width="1.4" stroke-linejoin="round" stroke-linecap="round" />
<path d="M545,792.5 Q547,793.6 547,795.6 L546.5,808 Q546.2,809.2 545,809.5" fill="none" stroke="#1c1c1c" stroke-width="1.3" stroke-linejoin="round" stroke-linecap="round" />
<path d="M547,800 Q548.2,798 550,797.5 Q552.6,796.8 555,797 L560.6,799" fill="none" stroke="#1c1c1c" stroke-width="1.3" stroke-linejoin="round" stroke-linecap="round" />
<path d="M537.2,809.6 Q537,813 539.6,813.2 Q542.2,813 542,809.6" fill="none" stroke="#1c1c1c" stroke-width="1.1" stroke-linejoin="round" stroke-linecap="round" />
<line x1="534.60" y1="792.40" x2="534.60" y2="811.00" stroke="#1c1c1c" stroke-width="1.8" />
<path d="M288.05,798 C288.2,792.4 291,790 294.8,789.9 C299,790 301.8,792.4 302,797.1 L302,852 Q300.6,856 298.4,856 L290.75,856 Q288.6,855.4 288.5,853.8 Z" fill="#fff" stroke="#1c1c1c" stroke-width="1.4" stroke-linejoin="round" stroke-linecap="round" />
<path d="M288.2,814.6 L284.2,814.8 L284.2,851 L288.4,851.2" fill="none" stroke="#1c1c1c" stroke-width="1.2" stroke-linejoin="round" stroke-linecap="round" />
<line x1="286.30" y1="815.00" x2="286.30" y2="851.00" stroke="#1c1c1c" stroke-width="0.9" />
<path d="M282.8,821.4 L285,820.4 L288.4,821.6 L288.4,826.6 L285,827.8 L282.8,826.6 Z" fill="#2a2a2a" stroke="#1c1c1c" stroke-width="0.8" stroke-linejoin="round" stroke-linecap="round" />
<path d="M283.2,841.6 L285.4,840.2 L289.2,841.6 L289.2,849 L285.6,850.4 L283.2,849 Z" fill="#2a2a2a" stroke="#1c1c1c" stroke-width="0.8" stroke-linejoin="round" stroke-linecap="round" />
<path d="M302.1,827 L302.1,838.2 L322,878 L334.4,862.8 L313.7,822.3 Z" fill="#fff" stroke="none" stroke-width="1.0" stroke-linejoin="round" stroke-linecap="round" />
<line x1="302.10" y1="838.20" x2="322.00" y2="878.00" stroke="#1c1c1c" stroke-width="1.6" />
<line x1="302.40" y1="827.60" x2="321.60" y2="866.00" stroke="#1c1c1c" stroke-width="1.4" />
<line x1="313.90" y1="822.40" x2="334.20" y2="861.60" stroke="#1c1c1c" stroke-width="1.6" />
<rect x="321.7" y="860.8" width="13.6" height="24.8" rx="6.8" ry="7.4" fill="#fff" stroke="#1c1c1c" stroke-width="1.5"/>
<path d="M291.65,799.35 C289.6,800.6 288.9,801.8 288.95,803.4 L289.4,811.5 C290,814.2 291.6,815.8 293,816.9 L297.05,819.6 L296.6,844.8 L299.3,847.05 L302,847.05 L302,826.8 C302.4,823.4 303.2,822.2 303.8,821.4 C305.6,820 307.4,819.6 309.2,819.6 C311.6,820 312.8,821 313.7,822.3 L317.6,828.6 L322.25,830 L322.25,811.5 L321.8,810.6 L316.85,805.2 L316.4,799.35 L296.6,798.45 Z" fill="#fff" stroke="#1c1c1c" stroke-width="1.5" stroke-linejoin="round" stroke-linecap="round" />
<path d="M296.6,798.45 C296.4,801 296.6,803.4 297.5,805.2 C298.6,808 300.2,810 302,811.5 L304.7,813.75" fill="none" stroke="#1c1c1c" stroke-width="1.3" stroke-linejoin="round" stroke-linecap="round" />
<path d="M297.05,819.6 C298,816.8 299.4,815.4 301.1,814.65 L304.7,813.75 L317.3,812.85 L321.8,811.5" fill="none" stroke="#1c1c1c" stroke-width="1.4" stroke-linejoin="round" stroke-linecap="round" />
<path d="M299.75,818.7 L298.85,845.7" fill="none" stroke="#1c1c1c" stroke-width="1.1" stroke-linejoin="round" stroke-linecap="round" />
<path d="M317.3,812.85 L317.6,828.6" fill="none" stroke="#1c1c1c" stroke-width="1.2" stroke-linejoin="round" stroke-linecap="round" />
<path d="M302,826.8 C302.4,823.4 303.2,822.2 303.8,821.4 C305.6,820 307.4,819.6 309.2,819.6 C311.6,820 312.8,821 313.7,822.3" fill="none" stroke="#1c1c1c" stroke-width="1.4" stroke-linejoin="round" stroke-linecap="round" />
<path d="M324.6,885.4 L324.6,889.4 M333,885.4 L333,889.4 M327.6,886 L327.6,890 M330.4,886 L330.4,890" fill="none" stroke="#1c1c1c" stroke-width="1.1" stroke-linejoin="round" stroke-linecap="round" />
<path d="M315.5,893 Q315.6,888.4 327,888.3 Q338.5,888.4 338.6,893 L338.6,917.6 L336.2,918.4 L335.8,922 Q335.6,927.4 329.9,927.4 Q324.2,927.4 324,922 L323.4,919 L315.5,916.4 Z" fill="#fff" stroke="#1c1c1c" stroke-width="1.3" stroke-linejoin="round" stroke-linecap="round" />
<ellipse cx="327.00" cy="892.20" rx="10.40" ry="2.60" transform="rotate(0.00 327.00 892.20)" fill="none" stroke="#1c1c1c" stroke-width="1.0"/>
<path d="M315.8,893.4 L338.4,893.4 L338.4,904.2 L323.8,904.2 L323.8,919 L321.4,918.4 L315.8,916.2 Z" fill="#232323"/>
<rect x="323.9" y="897.0" width="13.4" height="1.7" fill="#d8d8d8"/>
<rect x="325.2" y="901.8" width="12.2" height="1.2" fill="#a8a8a8"/>
<rect x="316.4" y="894.9" width="1.6" height="16" fill="#a0a0a0"/>
<rect x="317.6" y="912.6" width="2.4" height="1.2" fill="#888"/>
<rect x="324.3" y="904.3" width="11.2" height="4.1" fill="#fff" stroke="#1c1c1c" stroke-width="1.0"/>
<path d="M324,908.6 L324,922 M335.8,908.6 L336.4,921" fill="none" stroke="#1c1c1c" stroke-width="1.3" stroke-linejoin="round" stroke-linecap="round" />
<path d="M324,909 L324.6,924" fill="none" stroke="#1c1c1c" stroke-width="2.0" stroke-linejoin="round" stroke-linecap="round" />
<path d="M338.6,898.8 Q340.8,899.2 340.8,901.5 Q340.8,903.8 338.6,904.2 M336.8,911.4 L340.2,912.2 L340.2,917.4 L337,918.2" fill="none" stroke="#1c1c1c" stroke-width="1.3" stroke-linejoin="round" stroke-linecap="round" />
<path d="M628.8,853.6 L628.8,862 M631,854.4 L631,862 M633.8,855.6 L633.8,861 M636.8,856.4 L636.8,861" fill="none" stroke="#1c1c1c" stroke-width="1.3" stroke-linejoin="round" stroke-linecap="round" />
<path d="M622,863.4 Q622.4,858.8 633.2,858.8 Q644.2,859 644.6,863 Q642,868 633.2,868 Q625.6,867.6 622,863.4 Z" fill="#fff" stroke="#1c1c1c" stroke-width="1.3" stroke-linejoin="round" stroke-linecap="round" />
<ellipse cx="633.20" cy="862.20" rx="7.40" ry="2.20" transform="rotate(0.00 633.20 862.20)" fill="none" stroke="#1c1c1c" stroke-width="1.0"/>
<path d="M622.2,865 Q628,869.4 636,868.8" fill="none" stroke="#1c1c1c" stroke-width="1.6" stroke-linejoin="round" stroke-linecap="round" />
<path d="M621.9,862.7 C621.4,872 623.6,882 629.3,890.7 C631.6,893.6 634.4,896.4 638.1,897.9" fill="none" stroke="#1c1c1c" stroke-width="1.4" stroke-linejoin="round" stroke-linecap="round" />
<path d="M628.9,867.6 L629.1,887.4" fill="none" stroke="#1c1c1c" stroke-width="2.0" stroke-linejoin="round" stroke-linecap="round" />
<path d="M631.3,868.4 L631.5,883" fill="none" stroke="#1c1c1c" stroke-width="1.1" stroke-linejoin="round" stroke-linecap="round" />
<ellipse cx="637.20" cy="887.90" rx="4.80" ry="10.30" transform="rotate(0.00 637.20 887.90)" fill="#fff" stroke="#1c1c1c" stroke-width="1.7"/>
<ellipse cx="636.60" cy="888.30" rx="2.90" ry="7.40" transform="rotate(0.00 636.60 888.30)" fill="#e4e4e4" stroke="#1c1c1c" stroke-width="1.2"/>
<path d="M632.4,883 Q631.2,889 633.2,894.6" fill="none" stroke="#1c1c1c" stroke-width="2.2" stroke-linejoin="round" stroke-linecap="round" />
<path d="M638.1,897.9 Q646,898.2 648.6,893 Q651.4,887 650.4,878.6" fill="none" stroke="#1c1c1c" stroke-width="1.4" stroke-linejoin="round" stroke-linecap="round" />
<path d="M641.6,877.8 L650.6,878.6 L650.4,875.6 L642,874.4" fill="none" stroke="#1c1c1c" stroke-width="1.2" stroke-linejoin="round" stroke-linecap="round" />
<path d="M636.6,866.6 L648,864.8 L657,866.4 L660.6,867.2 L660.6,869.6 L656.2,870.4 L654.6,875.2 L651,876.4 L641.4,875.8 L637,872 Z" fill="#2a2a2a" stroke="#1c1c1c" stroke-width="1.0" stroke-linejoin="round" stroke-linecap="round" />
<path d="M641,868.6 L650,867.6" fill="none" stroke="#bbb" stroke-width="0.9" stroke-linejoin="round" stroke-linecap="round" />
<path d="M643,872.6 L649,872.4" fill="none" stroke="#999" stroke-width="0.8" stroke-linejoin="round" stroke-linecap="round" />
<line x1="401.70" y1="259.50" x2="401.70" y2="477.40" stroke="#1c1c1c" stroke-width="1.5" />
<line x1="407.20" y1="259.00" x2="407.20" y2="480.00" stroke="#1c1c1c" stroke-width="2.0" />
<line x1="439.70" y1="255.80" x2="439.70" y2="478.00" stroke="#1c1c1c" stroke-width="2.0" />
<line x1="398.60" y1="477.20" x2="398.60" y2="612.00" stroke="#1c1c1c" stroke-width="1.5" />
<line x1="405.50" y1="480.60" x2="405.50" y2="620.00" stroke="#1c1c1c" stroke-width="2.2" />
<line x1="442.90" y1="478.40" x2="442.90" y2="608.50" stroke="#1c1c1c" stroke-width="1.9" />
<path d="M398.3,477.4 L401.4,476.9 L407.6,479.8 L406,482.2 Z" fill="#262626" stroke="#1c1c1c" stroke-width="0.8" stroke-linejoin="round" stroke-linecap="round" />
<line x1="406.00" y1="481.80" x2="443.00" y2="478.20" stroke="#1c1c1c" stroke-width="2.5" />
<path d="M439.7,476.4 L442.9,478.2" fill="none" stroke="#1c1c1c" stroke-width="1.3" stroke-linejoin="round" stroke-linecap="round" />
<circle cx="401.60" cy="487.20" r="0.80" fill="#1c1c1c" stroke="#1c1c1c" stroke-width="0.8"/>
<line x1="398.60" y1="652.00" x2="398.60" y2="792.60" stroke="#1c1c1c" stroke-width="1.5" />
<line x1="405.50" y1="655.00" x2="405.50" y2="798.00" stroke="#1c1c1c" stroke-width="2.2" />
<line x1="442.90" y1="650.00" x2="442.90" y2="795.00" stroke="#1c1c1c" stroke-width="1.9" />
<line x1="405.30" y1="798.00" x2="442.90" y2="795.00" stroke="#1c1c1c" stroke-width="1.3" />
<path d="M398.5,792.6 L405.3,798" fill="none" stroke="#1c1c1c" stroke-width="1.1" stroke-linejoin="round" stroke-linecap="round" />
<path d="M391,799 Q391.6,795.4 395,794 L398.5,792.8" fill="none" stroke="#1c1c1c" stroke-width="1.2" stroke-linejoin="round" stroke-linecap="round" />
<path d="M442.9,792.4 Q448.6,794.6 450.5,799" fill="none" stroke="#1c1c1c" stroke-width="1.2" stroke-linejoin="round" stroke-linecap="round" />
<path d="M392.4,798 C395,799 398,801.4 403.5,801.2 L410,800.7 L445,797.4 Q448.5,797.4 450.4,798.6" fill="none" stroke="#1c1c1c" stroke-width="1.1" stroke-linejoin="round" stroke-linecap="round" />
<path d="M391,799 L391.4,802.6 C393,805 398,807.6 403.5,808.4 L410,807.8 L444.5,804 L450.5,802.4 L450.5,799" fill="none" stroke="#1c1c1c" stroke-width="1.2" stroke-linejoin="round" stroke-linecap="round" />
<line x1="410.00" y1="800.70" x2="410.00" y2="807.80" stroke="#1c1c1c" stroke-width="1.0" />
<line x1="444.80" y1="797.40" x2="444.60" y2="804.00" stroke="#1c1c1c" stroke-width="1.0" />
<line x1="397.60" y1="800.60" x2="397.80" y2="806.60" stroke="#1c1c1c" stroke-width="0.9" />
<path d="M388.2,611.4 Q388,609.2 390.4,609 L398.4,608.4 M388.2,611.4 L390.2,613.6 L399,613.2" fill="none" stroke="#1c1c1c" stroke-width="1.3" stroke-linejoin="round" stroke-linecap="round" />
<path d="M443.6,604.6 L448,608.2 L450.6,610" fill="none" stroke="#1c1c1c" stroke-width="1.2" stroke-linejoin="round" stroke-linecap="round" />
<path d="M353,625 Q353.4,623.2 355.4,622.8 C370,620 385,616.5 400,614 C420,611.4 440,610 460,609.4 C475,609 488,609 493,609 Q498,609.4 499.6,613 L500.5,618 L526,633.5 Q528.6,635.2 528.8,637.5 L529,641.5 L386.5,654.6 Q385,654.8 383.5,653.6 L352.5,634.5 Z" fill="#fff" stroke="#1c1c1c" stroke-width="1.7" stroke-linejoin="round" stroke-linecap="round" />
<path d="M354.5,625.2 L384,647.5 Q386.4,649.4 386.5,651.4 L386.5,654.4" fill="none" stroke="#1c1c1c" stroke-width="1.4" stroke-linejoin="round" stroke-linecap="round" />
<path d="M355.2,623.6 L358.5,630 Q360.6,633 364,633.5 L440,625.4 L496,621" fill="none" stroke="#1c1c1c" stroke-width="1.5" stroke-linejoin="round" stroke-linecap="round" />
<path d="M494.5,612 L495,621" fill="none" stroke="#1c1c1c" stroke-width="1.2" stroke-linejoin="round" stroke-linecap="round" />
<path d="M496.5,621.6 L525,639.6" fill="none" stroke="#1c1c1c" stroke-width="1.3" stroke-linejoin="round" stroke-linecap="round" />
<line x1="369.80" y1="627.20" x2="480.40" y2="616.30" stroke="#1c1c1c" stroke-width="5.50" stroke-linecap="round"/>
<line x1="369.80" y1="627.20" x2="480.40" y2="616.30" stroke="#fff" stroke-width="2.90" stroke-linecap="round"/>
<circle cx="400.50" cy="621.00" r="2.20" fill="#262626" stroke="#1c1c1c" stroke-width="1.0"/>
<circle cx="449.50" cy="616.20" r="2.20" fill="#262626" stroke="#1c1c1c" stroke-width="1.0"/>
<ellipse cx="394.50" cy="640.00" rx="3.90" ry="1.80" transform="rotate(12.00 394.50 640.00)" fill="#fff" stroke="#1c1c1c" stroke-width="1.9"/>
<ellipse cx="409.00" cy="638.50" rx="3.90" ry="1.80" transform="rotate(12.00 409.00 638.50)" fill="#fff" stroke="#1c1c1c" stroke-width="1.9"/>
<ellipse cx="423.00" cy="637.20" rx="3.90" ry="1.80" transform="rotate(12.00 423.00 637.20)" fill="#fff" stroke="#1c1c1c" stroke-width="1.9"/>
<ellipse cx="436.80" cy="635.60" rx="3.90" ry="1.80" transform="rotate(12.00 436.80 635.60)" fill="#fff" stroke="#1c1c1c" stroke-width="1.9"/>
<ellipse cx="451.50" cy="634.00" rx="3.90" ry="1.80" transform="rotate(12.00 451.50 634.00)" fill="#fff" stroke="#1c1c1c" stroke-width="1.9"/>
<ellipse cx="465.50" cy="632.80" rx="3.90" ry="1.80" transform="rotate(12.00 465.50 632.80)" fill="#fff" stroke="#1c1c1c" stroke-width="1.9"/>
<ellipse cx="480.00" cy="631.50" rx="3.90" ry="1.80" transform="rotate(12.00 480.00 631.50)" fill="#fff" stroke="#1c1c1c" stroke-width="1.9"/>
<ellipse cx="404.50" cy="646.20" rx="3.90" ry="1.80" transform="rotate(12.00 404.50 646.20)" fill="#fff" stroke="#1c1c1c" stroke-width="1.9"/>
<ellipse cx="419.00" cy="644.70" rx="3.90" ry="1.80" transform="rotate(12.00 419.00 644.70)" fill="#fff" stroke="#1c1c1c" stroke-width="1.9"/>
<ellipse cx="433.00" cy="643.50" rx="3.90" ry="1.80" transform="rotate(12.00 433.00 643.50)" fill="#fff" stroke="#1c1c1c" stroke-width="1.9"/>
<ellipse cx="447.50" cy="642.00" rx="3.90" ry="1.80" transform="rotate(12.00 447.50 642.00)" fill="#fff" stroke="#1c1c1c" stroke-width="1.9"/>
<ellipse cx="461.50" cy="640.60" rx="3.90" ry="1.80" transform="rotate(12.00 461.50 640.60)" fill="#fff" stroke="#1c1c1c" stroke-width="1.9"/>
<ellipse cx="476.00" cy="639.40" rx="3.90" ry="1.80" transform="rotate(12.00 476.00 639.40)" fill="#fff" stroke="#1c1c1c" stroke-width="1.9"/>
<ellipse cx="490.50" cy="638.00" rx="3.90" ry="1.80" transform="rotate(12.00 490.50 638.00)" fill="#fff" stroke="#1c1c1c" stroke-width="1.9"/>
<line x1="322.20" y1="866.00" x2="322.20" y2="993.30" stroke="#303030" stroke-width="1.45" />
<line x1="645.70" y1="838.00" x2="645.70" y2="963.00" stroke="#303030" stroke-width="1.45" />
<line x1="529.70" y1="100.00" x2="529.70" y2="116.00" stroke="#303030" stroke-width="1.45" />
<line x1="339.00" y1="120.00" x2="339.00" y2="134.20" stroke="#303030" stroke-width="1.45" />
<line x1="320.00" y1="138.60" x2="336.60" y2="137.00" stroke="#303030" stroke-width="1.45" />
<line x1="320.00" y1="336.20" x2="336.80" y2="334.50" stroke="#303030" stroke-width="1.45" />
</svg>
</body></html>
